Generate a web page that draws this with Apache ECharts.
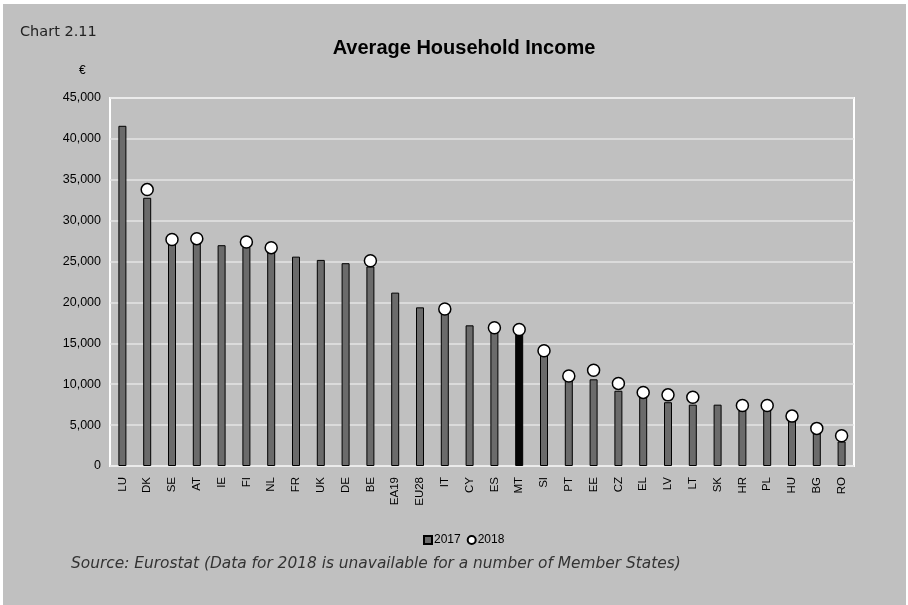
<!DOCTYPE html>
<html>
<head>
<meta charset="utf-8">
<script src="https://cdn.jsdelivr.net/npm/echarts@6/dist/echarts.min.js"></script>
<style>
html,body{margin:0;padding:0;background:#ffffff;}
#chart{width:908px;height:605px;}
</style>
</head>
<body>
<div id="chart"></div>
<script>
const categories = ['LU','DK','SE','AT','IE','FI','NL','FR','UK','DE','BE','EA19','EU28','IT','CY','ES','MT','SI','PT','EE','CZ','EL','LV','LT','SK','HR','PL','HU','BG','RO'];
const values2017 = [41600,32800,27300,27500,27000,26800,26300,25600,25200,24800,24400,21200,19400,18800,17200,16500,16200,13600,10700,10600,9200,8500,7800,7500,7500,6800,6900,5600,4200,3000];
const values2018 = [null,33800,27700,27800,null,27400,26700,null,null,null,25100,null,null,19200,null,16900,16700,14100,11000,11700,10100,9000,8700,8400,null,7400,7400,6100,4600,3700];
const highlight = 'MT';
const yTicks = {min:0, max:45000, interval:5000};

const chart = echarts.init(document.getElementById('chart'), null, {renderer:'canvas'});
const fmt = v => v.toLocaleString('en-US');

chart.setOption({
  backgroundColor:'#ffffff',
  animation:false,
  textStyle:{fontFamily:'Liberation Sans, Arial, sans-serif'},
  title:{
    text:'Average Household Income',
    left:459, top:33, textAlign:'center',
    textStyle:{fontSize:20, fontWeight:'bold', color:'#000', fontFamily:'Liberation Sans, Arial, sans-serif'}
  },
  graphic:[
    {type:'rect', z:-100, silent:true, shape:{x:3, y:4, width:903, height:610}, style:{fill:'#c0c0c0'}},
    {type:'text', left:20, top:25, style:{text:'Chart 2.11', fontSize:14.5, fill:'#222', fontFamily:'DejaVu Sans, sans-serif'}},
    {type:'text', left:79, top:65, style:{text:'€', fontSize:12, fill:'#000', fontFamily:'Liberation Sans, Arial, sans-serif'}},
    {type:'text', left:71, top:556, style:{text:'Source: Eurostat (Data for 2018 is unavailable for a number of Member States)', fontSize:15.4, fontStyle:'italic', fill:'#333', fontFamily:'DejaVu Sans, sans-serif'}}
  ],
  legend:{
    left:418, top:529,
    itemWidth:8, itemHeight:8, itemGap:6,
    textStyle:{fontSize:12, color:'#000', padding:[0,0,0,-3]},
    data:[{name:'2017', icon:'rect'},{name:'2018', icon:'circle'}]
  },
  grid:{
    left:110, right:54, top:98, bottom:139,
    show:true, borderColor:'#ffffff', borderWidth:2, backgroundColor:'transparent'
  },
  xAxis:{
    type:'category',
    data:categories,
    axisLine:{show:false},
    axisTick:{show:false},
    axisLabel:{rotate:90, fontSize:11.5, color:'#000', margin:11, interval:0}
  },
  yAxis:{
    type:'value',
    min:yTicks.min, max:yTicks.max, interval:yTicks.interval,
    axisLine:{show:false},
    axisTick:{show:false},
    axisLabel:{fontSize:12.5, color:'#000', margin:9, formatter:fmt},
    splitLine:{lineStyle:{color:'#e4e4e4', width:1.5}}
  },
  series:[
    {
      name:'2017', type:'bar', barWidth:8,
      itemStyle:{color:'#6b6b6b', borderColor:'#000', borderWidth:1},
      data: values2017.map((v,i)=> categories[i]===highlight ? {value:v, itemStyle:{color:'#050505'}} : v),
      z:2
    },
    {
      name:'2018', type:'scatter', symbol:'circle', symbolSize:12,
      itemStyle:{color:'#ffffff', borderColor:'#000', borderWidth:1.5, opacity:1},
      data: values2018,
      z:3
    }
  ]
});
</script>
</body>
</html>
